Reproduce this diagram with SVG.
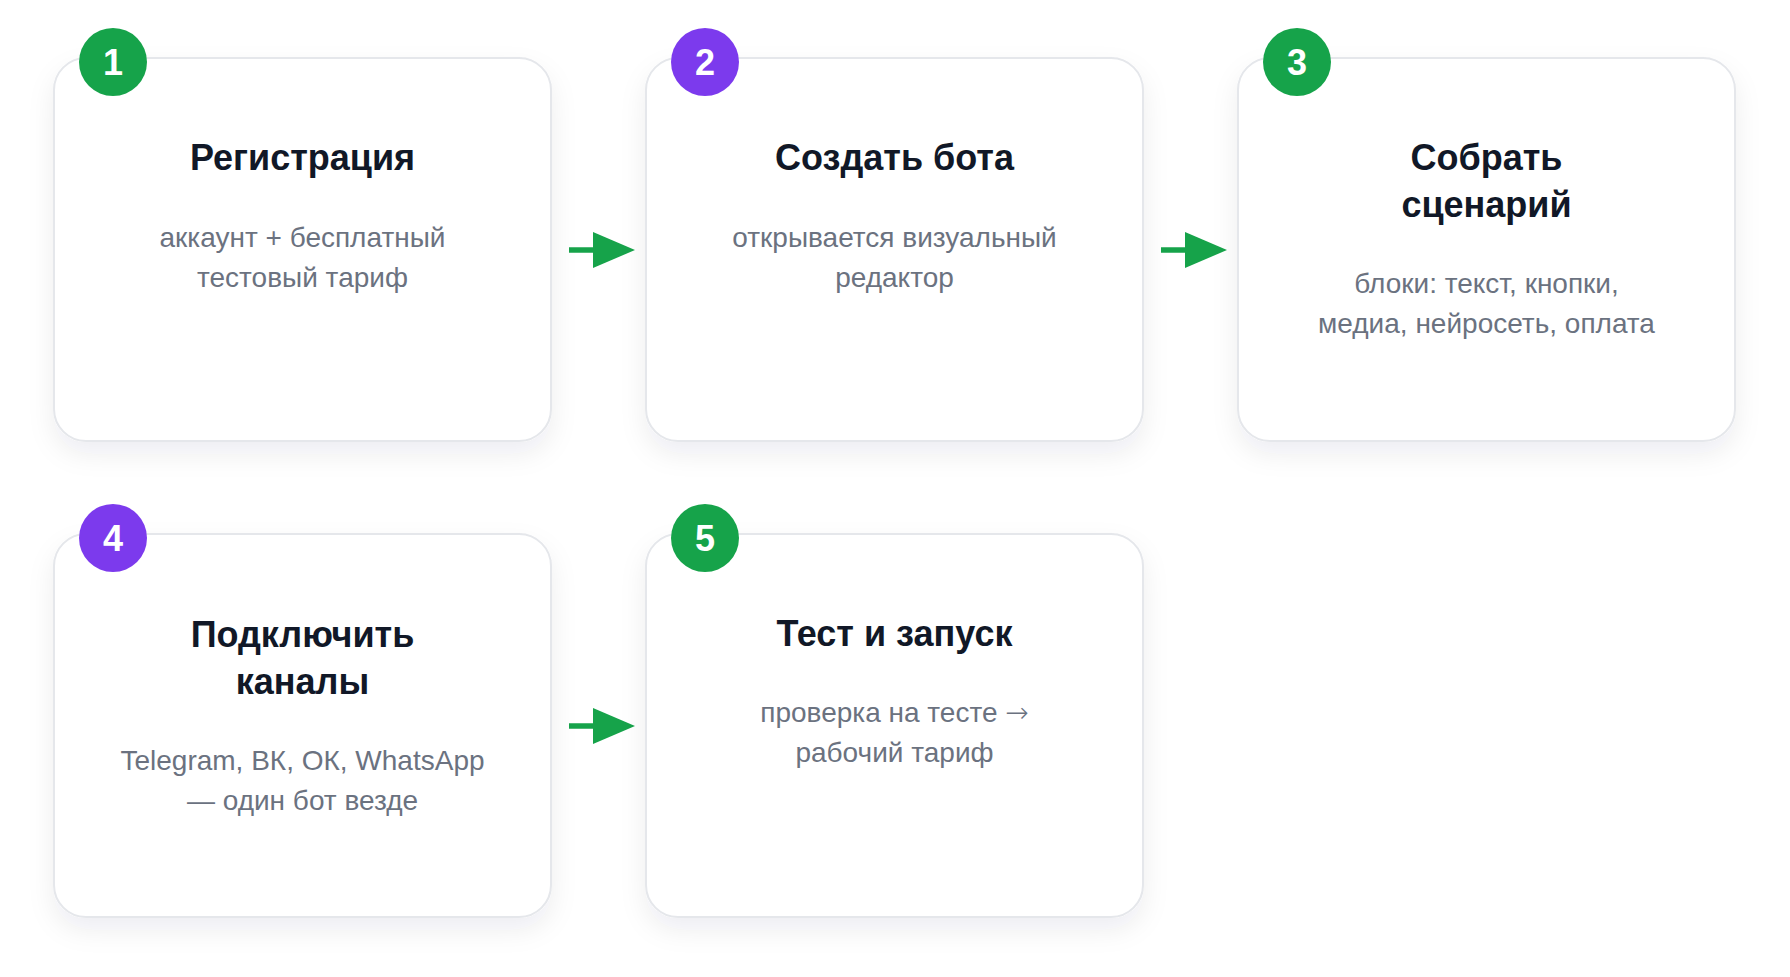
<svg xmlns="http://www.w3.org/2000/svg" width="1790" height="977" viewBox="0 0 1790 977">
<defs>
<filter id="sh" x="-20%" y="-20%" width="140%" height="150%">
<feDropShadow dx="0" dy="12" stdDeviation="13" flood-color="#1f2937" flood-opacity="0.07"/>
</filter>
<marker id="ah" viewBox="0 0 42 36" refX="0" refY="18" markerWidth="42" markerHeight="36" markerUnits="userSpaceOnUse" orient="auto">
<path d="M0,0 L42,18 L0,36 z" fill="#16a34a"/>
</marker>
<style>
.card{fill:#ffffff;stroke:#e5e7eb;stroke-width:2;filter:url(#sh)}
.title{font-family:"Liberation Sans",Arial,sans-serif;font-weight:bold;font-size:36px;fill:#111827;text-anchor:middle}
.sub{font-family:"Liberation Sans",Arial,sans-serif;font-size:28px;fill:#6b7280;text-anchor:middle}
.arr{font-family:"DejaVu Sans",sans-serif;font-weight:200}
.num{font-family:"Liberation Sans",Arial,sans-serif;font-weight:bold;font-size:36px;fill:#ffffff;text-anchor:middle}
.g{fill:#16a34a}
.p{fill:#7c3aed}
.conn{stroke:#16a34a;stroke-width:5.5;fill:none}
</style>
</defs>
<rect width="1790" height="977" fill="#ffffff"/>
<g id="connectors">
<line class="conn" x1="569" y1="250" x2="593" y2="250" marker-end="url(#ah)"/>
<line class="conn" x1="1161" y1="250" x2="1185" y2="250" marker-end="url(#ah)"/>
<line class="conn" x1="569" y1="726" x2="593" y2="726" marker-end="url(#ah)"/>
</g>
<g id="node1">
<rect class="card" x="54" y="58" width="497" height="383" rx="32"/>
<circle class="g" cx="113" cy="62" r="34"/>
<text class="num" x="113" y="75">1</text>
<text class="title" x="302.5" y="170">Регистрация</text>
<text class="sub" x="302.5" y="246.5">аккаунт + бесплатный</text>
<text class="sub" x="302.5" y="286.5">тестовый тариф</text>
</g>
<g id="node2">
<rect class="card" x="646" y="58" width="497" height="383" rx="32"/>
<circle class="p" cx="705" cy="62" r="34"/>
<text class="num" x="705" y="75">2</text>
<text class="title" x="894.5" y="170">Создать бота</text>
<text class="sub" x="894.5" y="246.5">открывается визуальный</text>
<text class="sub" x="894.5" y="286.5">редактор</text>
</g>
<g id="node3">
<rect class="card" x="1238" y="58" width="497" height="383" rx="32"/>
<circle class="g" cx="1297" cy="62" r="34"/>
<text class="num" x="1297" y="75">3</text>
<text class="title" x="1486.5" y="170">Собрать</text>
<text class="title" x="1486.5" y="217">сценарий</text>
<text class="sub" x="1486.5" y="293">блоки: текст, кнопки,</text>
<text class="sub" x="1486.5" y="333">медиа, нейросеть, оплата</text>
</g>
<g id="node4">
<rect class="card" x="54" y="534" width="497" height="383" rx="32"/>
<circle class="p" cx="113" cy="538" r="34"/>
<text class="num" x="113" y="551">4</text>
<text class="title" x="302.5" y="646.5">Подключить</text>
<text class="title" x="302.5" y="693.5">каналы</text>
<text class="sub" x="302.5" y="769.5">Telegram, ВК, ОК, WhatsApp</text>
<text class="sub" x="302.5" y="809.5">— один бот везде</text>
</g>
<g id="node5">
<rect class="card" x="646" y="534" width="497" height="383" rx="32"/>
<circle class="g" cx="705" cy="538" r="34"/>
<text class="num" x="705" y="551">5</text>
<text class="title" x="894.5" y="646">Тест и запуск</text>
<text class="sub" x="894.5" y="722">проверка на тесте <tspan class="arr">→</tspan></text>
<text class="sub" x="894.5" y="762">рабочий тариф</text>
</g>
</svg>
